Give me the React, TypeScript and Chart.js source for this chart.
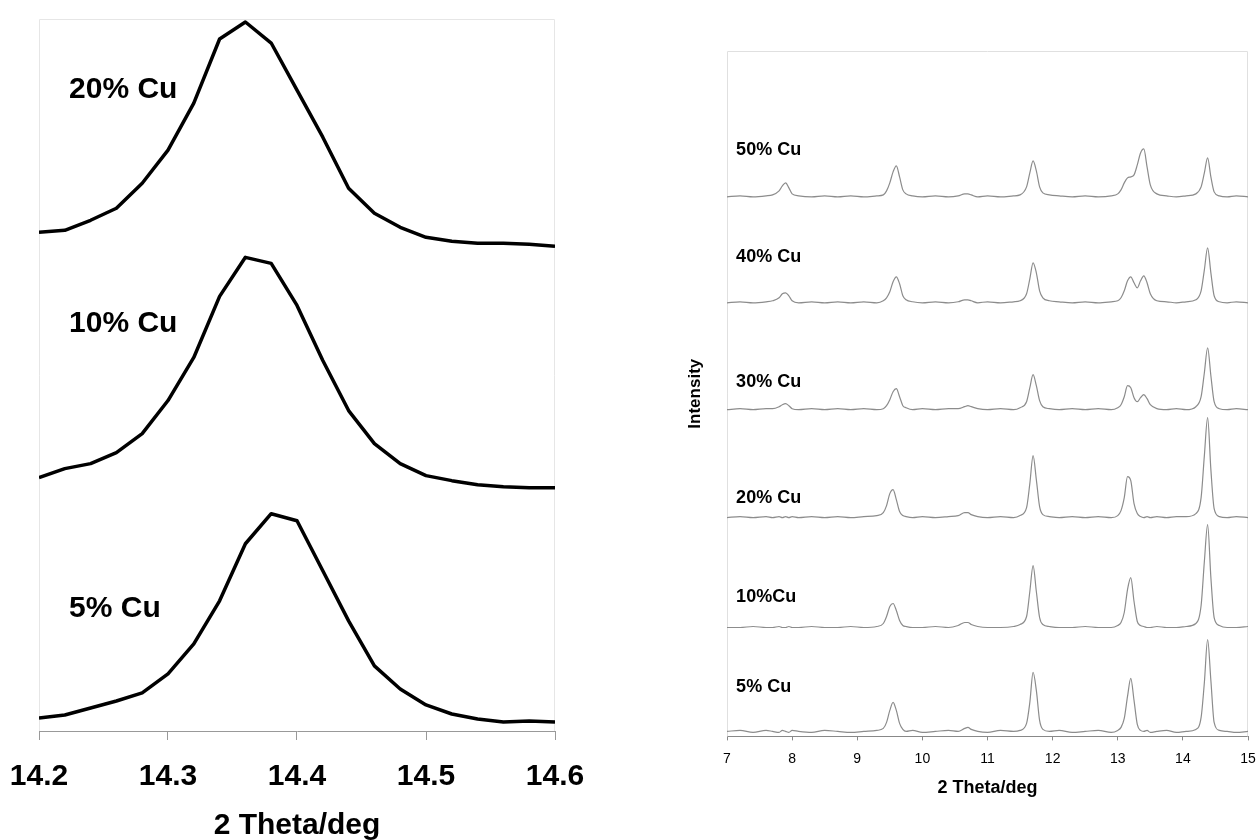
import React, { useEffect, useRef } from 'react';
import { Chart, registerables } from 'chart.js';

Chart.register(...registerables);

const FONT = '"Liberation Sans", Arial, Helvetica, sans-serif';

// ---------- Left panel: zoom on the ~14.38 deg reflection ----------
const zoomTheta = [
  14.2, 14.22, 14.24, 14.26, 14.28, 14.3, 14.32, 14.34, 14.36, 14.38, 14.4,
  14.42, 14.44, 14.46, 14.48, 14.5, 14.52, 14.54, 14.56, 14.58, 14.6,
];
const zoomCu5 = [13, 16, 23, 30, 38, 57, 87, 130, 187, 217, 210, 160, 110, 65, 42, 26, 17, 12, 9, 10, 9];
const zoomCu10 = [253, 262, 267, 278, 297, 330, 373, 434, 473, 467, 425, 370, 320, 287, 267, 255, 250, 246, 244, 243, 243];
const zoomCu20 = [498, 500, 510, 522, 547, 580, 627, 691, 708, 687, 640, 593, 542, 517, 503, 493, 489, 487, 487, 486, 484];
const zoomLabels = ['5% Cu', '10% Cu', '20% Cu'];
const zoomLabelY = [122, 407, 640];
const zoomLabelX = 14.2233;

// ---------- Right panel: full patterns 7-15 deg ----------
const theta = [
  7.0, 7.2, 7.4, 7.6, 7.7, 7.8, 7.85, 7.9, 7.95, 8.0,
  8.1, 8.3, 8.5, 8.7, 8.9, 9.1, 9.3, 9.4, 9.45, 9.5,
  9.55, 9.6, 9.65, 9.7, 9.75, 9.85, 10.0, 10.2, 10.4, 10.55,
  10.65, 10.7, 10.75, 10.85, 11.0, 11.2, 11.4, 11.5, 11.6, 11.65,
  11.7, 11.75, 11.8, 11.85, 11.95, 12.1, 12.3, 12.5, 12.7, 12.9,
  13.0, 13.05, 13.1, 13.15, 13.2, 13.25, 13.3, 13.35, 13.4, 13.45,
  13.5, 13.6, 13.75, 13.9, 14.05, 14.2, 14.28, 14.33, 14.38, 14.43,
  14.48, 14.56, 14.68, 14.82, 15.0,
];
const cu50 = [
  0, 1, 0, 1, 2, 6, 11, 14, 9, 3,
  1, 0, 1, 0, 1, 0, 1, 2, 6, 14,
  25, 31, 20, 7, 3, 1, 0, 1, 0, 1,
  3, 3, 2, 0, 1, 0, 1, 2, 10, 24,
  36, 26, 10, 4, 2, 1, 0, 1, 0, 1,
  3, 7, 14, 19, 20, 22, 32, 44, 48, 30,
  12, 3, 1, 0, 1, 3, 10, 24, 39, 20,
  5, 1, 0, 1, 0,
];
const cu40 = [
  0, 1, 0, 1, 2, 5, 9, 10, 7, 2,
  0, 1, 0, 1, 0, 1, 0, 2, 5, 11,
  21, 26, 19, 7, 3, 1, 0, 1, 0, 1,
  3, 3, 2, 0, 1, 0, 1, 2, 9, 24,
  40, 30, 12, 5, 2, 1, 0, 1, 0, 1,
  2, 5, 12, 22, 26, 20, 15, 22, 27, 20,
  9, 2, 1, 0, 1, 3, 12, 33, 55, 30,
  7, 1, 0, 1, 0,
];
const cu30 = [
  0, 1, 0, 1, 1, 3, 5, 6, 4, 1,
  0, 1, 0, 1, 0, 1, 0, 1, 4, 10,
  18, 21, 13, 4, 2, 0, 1, 0, 1, 1,
  3, 4, 3, 1, 0, 1, 0, 2, 8, 22,
  35, 24, 9, 3, 1, 0, 1, 0, 1, 0,
  2, 5, 13, 24, 22, 12, 8, 12, 15, 11,
  5, 1, 0, 1, 0, 3, 13, 37, 62, 34,
  8, 1, 0, 1, 0,
];
const cu20 = [
  0, 1, 0, 1, 0, 1, 0, 1, 0, 1,
  0, 1, 0, 1, 0, 1, 2, 5, 12, 24,
  28, 18, 6, 2, 1, 0, 1, 0, 1, 2,
  5, 5, 3, 1, 0, 1, 0, 2, 10, 34,
  62, 38, 11, 3, 1, 0, 1, 0, 1, 0,
  2, 7, 20, 41, 37, 14, 4, 1, 0, 1,
  0, 1, 0, 1, 1, 4, 20, 62, 100, 48,
  9, 1, 0, 1, 0,
];
const cu10 = [
  0, 0, 1, 0, 0, 1, 0, 0, 1, 0,
  0, 1, 0, 0, 1, 0, 1, 4, 11, 21,
  24, 17, 7, 2, 1, 0, 0, 1, 0, 2,
  5, 5, 3, 1, 0, 0, 1, 3, 11, 36,
  62, 36, 10, 3, 1, 0, 0, 1, 0, 0,
  2, 5, 15, 38, 50, 26, 6, 2, 1, 0,
  0, 1, 0, 0, 1, 4, 22, 66, 103, 50,
  10, 2, 0, 0, 1,
];
const cu5 = [
  1, 2, 0, 2, 1, 0, 2, 1, 0, 2,
  1, 0, 2, 1, 0, 1, 2, 4, 10, 22,
  30, 22, 9, 3, 1, 2, 0, 1, 2, 1,
  4, 5, 3, 1, 0, 2, 1, 2, 9, 30,
  60, 42, 12, 3, 1, 2, 0, 1, 2, 0,
  2, 5, 14, 36, 54, 32, 8, 2, 1, 2,
  0, 1, 2, 0, 1, 3, 15, 50, 93, 52,
  10, 2, 1, 0, 1,
];
const wideSeries = [cu5, cu10, cu20, cu30, cu40, cu50];
const wideOffsets = [4, 109, 219, 327, 434, 540];
const wideLabels = ['5% Cu', '10%Cu', '20% Cu', '30% Cu', '40% Cu', '50% Cu'];
const wideLabelY = [49, 139, 239, 355, 480, 587];
const wideLabelX = 7.14;

type LabelOpts = { texts: string[]; xs: number[]; ys: number[]; font: string };

const framePlugin = {
  id: 'frame',
  beforeDatasetsDraw(chart: any, _args: any, opts: any) {
    const { ctx, chartArea } = chart;
    const { left, right, top, bottom } = chartArea;
    ctx.save();
    ctx.strokeStyle = opts.color || '#e3e3e3';
    ctx.lineWidth = 1;
    ctx.beginPath();
    ctx.moveTo(Math.round(left) + 0.5, bottom);
    ctx.lineTo(Math.round(left) + 0.5, Math.round(top) + 0.5);
    ctx.lineTo(Math.round(right) - 0.5, Math.round(top) + 0.5);
    ctx.lineTo(Math.round(right) - 0.5, bottom);
    ctx.stroke();
    ctx.restore();
  },
};

const labelPlugin = {
  id: 'seriesLabels',
  afterDatasetsDraw(chart: any, _args: any, opts: LabelOpts) {
    if (!opts || !opts.texts) return;
    const { ctx, scales } = chart;
    ctx.save();
    ctx.fillStyle = '#000';
    ctx.font = opts.font;
    ctx.textAlign = 'left';
    ctx.textBaseline = 'middle';
    opts.texts.forEach((t, i) => {
      const x = scales.x.getPixelForValue(opts.xs[i]);
      const y = scales.y.getPixelForValue(opts.ys[i]);
      ctx.fillText(t, x, y);
    });
    ctx.restore();
  },
};

const noEdgePadding = (scale: any) => {
  scale.paddingLeft = 0;
  scale.paddingRight = 0;
};

function LeftChart() {
  const ref = useRef<HTMLCanvasElement | null>(null);
  useEffect(() => {
    if (!ref.current) return;
    const series = [zoomCu5, zoomCu10, zoomCu20];
    const chart = new Chart(ref.current, {
      type: 'line',
      data: {
        datasets: series.map((s, k) => ({
          label: zoomLabels[k],
          data: zoomTheta.map((x, i) => ({ x, y: s[i] })),
          borderColor: '#000',
          borderWidth: 3.5,
          pointRadius: 0,
          tension: 0,
          borderJoinStyle: 'round' as const,
          fill: false,
        })),
      },
      options: {
        responsive: false,
        animation: false,
        layout: { padding: { left: 39, right: 45, top: 19, bottom: 0 } },
        plugins: {
          legend: { display: false },
          tooltip: { enabled: false },
          frame: { color: '#e6e6e6' },
          seriesLabels: {
            texts: zoomLabels,
            xs: zoomLabels.map(() => zoomLabelX),
            ys: zoomLabelY,
            font: `bold 30px ${FONT}`,
          },
        } as any,
        scales: {
          x: {
            type: 'linear',
            min: 14.2,
            max: 14.6,
            afterFit: noEdgePadding,
            ticks: {
              stepSize: 0.1,
              color: '#000',
              padding: 19,
              font: { family: FONT, size: 30, weight: 'bold' },
              callback: (v: any) => Number(v).toFixed(1),
            },
            grid: { display: true, drawOnChartArea: false, drawTicks: true, tickLength: 9, color: '#999' },
            border: { display: true, color: '#999', width: 1 },
            title: {
              display: true,
              text: '2 Theta/deg',
              color: '#000',
              font: { family: FONT, size: 30, weight: 'bold', lineHeight: 1.0 },
              padding: { top: -3, bottom: -1 },
            },
          },
          y: { display: false, min: 0, max: 711 },
        },
      },
      plugins: [framePlugin, labelPlugin],
    });
    return () => chart.destroy();
  }, []);
  return (
    <canvas
      ref={ref}
      width={600}
      height={840}
      style={{ position: 'absolute', left: 0, top: 0, width: 600, height: 840 }}
    />
  );
}

function RightChart() {
  const ref = useRef<HTMLCanvasElement | null>(null);
  useEffect(() => {
    if (!ref.current) return;
    const chart = new Chart(ref.current, {
      type: 'line',
      data: {
        datasets: wideSeries.map((s, k) => ({
          label: wideLabels[k],
          data: theta.map((x, i) => ({ x, y: s[i] + wideOffsets[k] })),
          borderColor: '#8c8c8c',
          borderWidth: 1.2,
          pointRadius: 0,
          cubicInterpolationMode: 'monotone' as const,
          fill: false,
        })),
      },
      options: {
        responsive: false,
        animation: false,
        layout: { padding: { left: 70, right: 9, top: 51, bottom: 30 } },
        plugins: {
          legend: { display: false },
          tooltip: { enabled: false },
          frame: { color: '#e0e0e0' },
          seriesLabels: {
            texts: wideLabels,
            xs: wideLabels.map(() => wideLabelX),
            ys: wideLabelY,
            font: `bold 18px ${FONT}`,
          },
        } as any,
        scales: {
          x: {
            type: 'linear',
            min: 7,
            max: 15,
            afterFit: noEdgePadding,
            ticks: {
              stepSize: 1,
              color: '#000',
              padding: 10,
              font: { family: FONT, size: 14 },
            },
            grid: { display: true, drawOnChartArea: false, drawTicks: true, tickLength: 4, color: '#888' },
            border: { display: true, color: '#888', width: 1 },
            title: {
              display: true,
              text: '2 Theta/deg',
              color: '#000',
              font: { family: FONT, size: 18, weight: 'bold' },
              padding: { top: 0, bottom: 11.2 },
            },
          },
          y: {
            min: 0,
            max: 686,
            ticks: { display: false },
            grid: { display: false, drawTicks: false, tickLength: 0 },
            border: { display: false },
            title: {
              display: true,
              text: 'Intensity',
              color: '#000',
              font: { family: FONT, size: 17, weight: 'bold' },
              padding: { top: 14.8, bottom: 21.8 },
            },
          },
        },
      },
      plugins: [framePlugin, labelPlugin],
    });
    return () => chart.destroy();
  }, []);
  return (
    <canvas
      ref={ref}
      width={657}
      height={840}
      style={{ position: 'absolute', left: 600, top: 0, width: 657, height: 840 }}
    />
  );
}

export default function App() {
  return (
    <div style={{ position: 'absolute', left: 0, top: 0, width: 1257, height: 840, background: '#fff' }}>
      <LeftChart />
      <RightChart />
    </div>
  );
}
